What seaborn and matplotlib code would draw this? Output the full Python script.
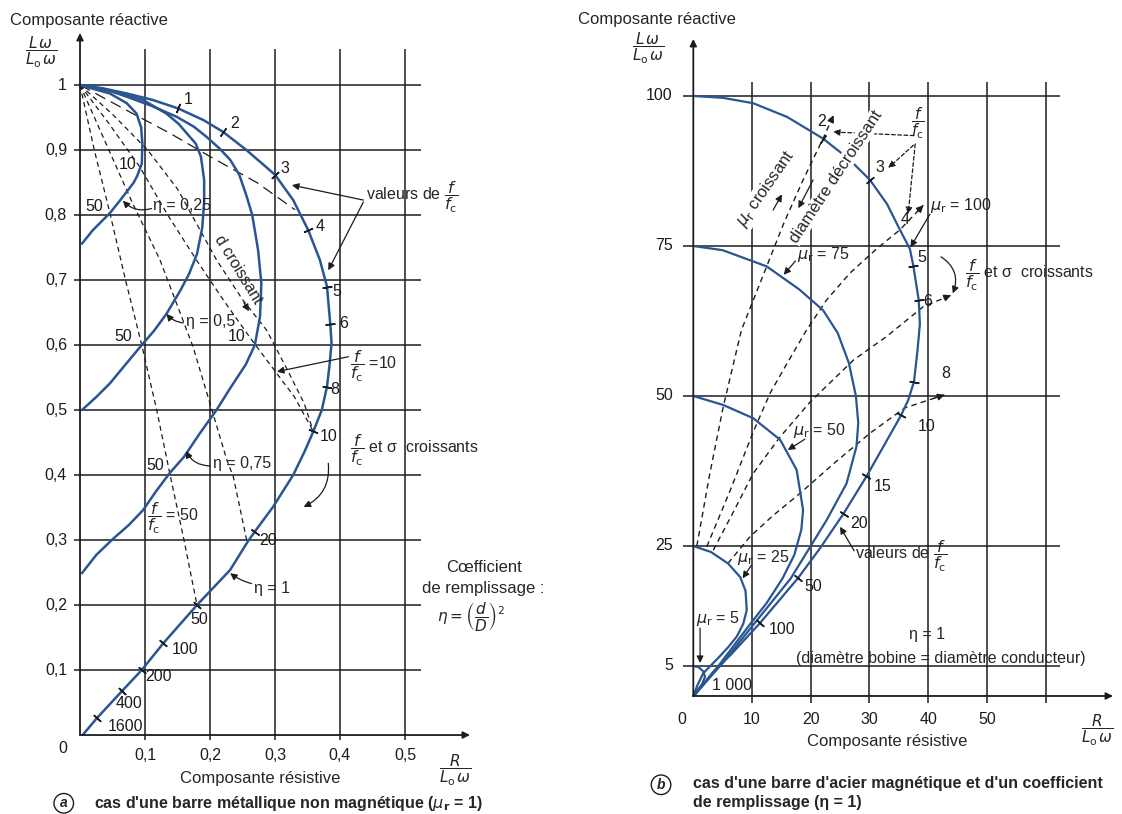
import numpy as np
import matplotlib
matplotlib.use("Agg")
import matplotlib.pyplot as plt
import seaborn as sns

sns.set_style("white")
plt.rcParams['font.family'] = ['Liberation Sans', 'DejaVu Sans']
plt.rcParams['mathtext.fontset'] = 'dejavusans'

BLUE = '#2a5593'
INK = '#1c1c1c'

# ---------------- (a) barre non magnétique ----------------
a_xticks = [0.1, 0.2, 0.3, 0.4, 0.5]
a_xlabels = ['0,1', '0,2', '0,3', '0,4', '0,5']
a_yticks = [0.1, 0.2, 0.3, 0.4, 0.5, 0.6, 0.7, 0.8, 0.9, 1.0]
a_ylabels = ['0,1', '0,2', '0,3', '0,4', '0,5', '0,6', '0,7', '0,8', '0,9', '1']

# courbes eta (coefficient de remplissage)
eta1_x = [0, 0.035, 0.072, 0.112, 0.151, 0.19, 0.22, 0.256, 0.30, 0.328, 0.351, 0.369, 0.380,
          0.385, 0.387, 0.384, 0.38, 0.372, 0.359, 0.345, 0.328, 0.297, 0.269, 0.259, 0.231,
          0.18, 0.128, 0.095, 0.064, 0.026, 0.004]
eta1_y = [1, 0.995, 0.987, 0.977, 0.964, 0.946, 0.928, 0.9, 0.862, 0.823, 0.777, 0.731, 0.69,
          0.633, 0.603, 0.57, 0.536, 0.5, 0.467, 0.435, 0.4, 0.351, 0.313, 0.299, 0.254,
          0.2, 0.141, 0.1, 0.067, 0.026, 0.0]
eta075_x = [0, 0.04, 0.072, 0.11, 0.149, 0.175, 0.195, 0.215, 0.231, 0.245, 0.256, 0.265, 0.274,
            0.279, 0.277, 0.269, 0.255, 0.232, 0.21, 0.185, 0.16, 0.138, 0.117, 0.097, 0.075,
            0.051, 0.025, 0.003]
eta075_y = [1, 0.993, 0.982, 0.968, 0.951, 0.936, 0.92, 0.902, 0.885, 0.862, 0.83, 0.8, 0.746,
            0.695, 0.644, 0.6, 0.57, 0.535, 0.5, 0.465, 0.428, 0.403, 0.375, 0.346, 0.323,
            0.302, 0.277, 0.249]
eta05_x = [0, 0.05, 0.097, 0.133, 0.152, 0.164, 0.178, 0.186, 0.191, 0.191, 0.188, 0.18, 0.168,
           0.155, 0.133, 0.114, 0.095, 0.07, 0.046, 0.025, 0.003]
eta05_y = [1, 0.99, 0.977, 0.956, 0.94, 0.926, 0.91, 0.89, 0.854, 0.82, 0.78, 0.74, 0.71,
           0.685, 0.648, 0.622, 0.6, 0.57, 0.541, 0.52, 0.5]
eta025_x = [0, 0.046, 0.072, 0.087, 0.094, 0.096, 0.095, 0.088, 0.082, 0.072, 0.062, 0.046,
            0.02, 0.003]
eta025_y = [1, 0.987, 0.972, 0.956, 0.935, 0.91, 0.879, 0.86, 0.849, 0.836, 0.823, 0.803,
            0.777, 0.756]

# lignes f/fc constantes (tiretés)
ff50_x = [0, 0.022, 0.046, 0.07, 0.095, 0.118, 0.138, 0.16, 0.18]
ff50_y = [1, 0.9, 0.803, 0.7, 0.6, 0.5, 0.403, 0.3, 0.2]
ff20_x = [0, 0.04, 0.08, 0.123, 0.174, 0.2, 0.226, 0.236, 0.248, 0.257]
ff20_y = [1, 0.91, 0.82, 0.731, 0.597, 0.51, 0.423, 0.397, 0.34, 0.297]
ff10_x = [0, 0.045, 0.092, 0.135, 0.179, 0.22, 0.264, 0.3, 0.33, 0.359]
ff10_y = [1, 0.94, 0.874, 0.8, 0.731, 0.67, 0.608, 0.56, 0.52, 0.467]
ffd_x = [0, 0.05, 0.104, 0.15, 0.21, 0.25, 0.287, 0.32, 0.345, 0.359]
ffd_y = [1, 0.955, 0.9, 0.84, 0.731, 0.67, 0.623, 0.56, 0.51, 0.467]
ff4_x = [0, 0.07, 0.138, 0.2, 0.272, 0.331]
ff4_y = [1, 0.962, 0.926, 0.89, 0.85, 0.808]

# repères f/fc sur la courbe eta = 1
a_marks = ['1', '2', '3', '4', '5', '6', '8', '10', '20', '50', '100', '200', '400', '1600']
a_mark_x = [0.151, 0.22, 0.30, 0.351, 0.38, 0.385, 0.38, 0.359, 0.269, 0.18, 0.128, 0.095, 0.064, 0.026]
a_mark_y = [0.964, 0.928, 0.862, 0.777, 0.69, 0.633, 0.536, 0.467, 0.313, 0.2, 0.141, 0.1, 0.067, 0.026]
a_lab_x = [0.167, 0.238, 0.315, 0.369, 0.395, 0.405, 0.392, 0.382, 0.289, 0.184, 0.161, 0.12, 0.076, 0.07]
a_lab_y = [0.977, 0.941, 0.872, 0.782, 0.682, 0.633, 0.531, 0.459, 0.3, 0.177, 0.131, 0.09, 0.049, 0.013]

# ---------------- (b) acier magnétique ----------------
b_xticks = [10, 20, 30, 40, 50, 60]
b_xlabels = ['10', '20', '30', '40', '50', '']
b_yticks = [5, 25, 50, 75, 100]
b_ylabels = ['5', '25', '50', '75', '100']

mu100_x = [0, 5, 10.2, 16, 22.1, 26.5, 30.1, 33, 35.2, 36.9, 37.5, 38.4, 38.6, 38.2, 37.6, 36.6,
           35.4, 32.4, 29.5, 25.6, 21.5, 17.8, 11.4, 6.5, 3.4, 0.3]
mu100_y = [100, 99.7, 98.8, 96.5, 92.9, 89.5, 86, 82, 77.7, 74.5, 71.6, 66, 62, 57.7, 52.4, 49.3,
           46.8, 41.6, 36.6, 30.4, 24.5, 19.6, 12.2, 7.0, 4.0, 0.2]
mu75_x = [0, 5, 12.5, 18, 22.1, 24.6, 26.5, 27.7, 28.1, 27.8, 26.1, 22.7, 20.0, 16.6, 10.5, 5, 1.5, 0]
mu75_y = [75, 74.3, 71.6, 67.8, 64.3, 60.5, 55.5, 50, 45.5, 41.6, 35.4, 29.3, 25.0, 19.6, 12.2, 5.5, 1.6, 0]
mu50_x = [0, 5.1, 10.2, 14.8, 17.6, 18.7, 18.4, 17.2, 15.2, 12.5, 9.7, 4.5, 1.2, 0]
mu50_y = [50, 48.5, 46.3, 42.7, 37.7, 31, 27.7, 23.5, 19.6, 15.5, 12, 5.3, 1.4, 0]
mu25_x = [0, 3, 5.9, 8, 8.9, 9.1, 8.5, 7.4, 6, 4.5, 3, 1.7, 0.7, 0]
mu25_y = [25, 24, 22.1, 19.8, 17.5, 14.3, 12, 9.9, 8.2, 6.6, 5.1, 3.8, 1.8, 0]
mu5_x = [0, 0.9, 1.7, 2.0, 1.5, 0.6, 0]
mu5_y = [5, 4.8, 4.1, 3.2, 2.0, 0.8, 0]

iso2_x = [0.6, 2.8, 5.1, 8.2, 12.5, 15.5, 18.7, 22.1, 23.9]
iso2_y = [25, 37, 48.2, 61, 71.6, 79, 86, 92.9, 96.8]
iso4_x = [2.3, 6.3, 10.2, 13.1, 16, 19.3, 22.7, 26.7, 31.2, 35.2, 39.2]
iso4_y = [24.9, 34.3, 44, 50.5, 55.5, 61, 66, 70.5, 74.5, 77.7, 81.8]
iso6_x = [3.4, 7, 10.2, 14.8, 19.9, 27.3, 32.9, 39.2, 43.9]
iso6_y = [24.3, 31, 37.1, 43.2, 49, 56, 59.9, 64.9, 66.8]
iso8_x = [5.9, 9.7, 13.5, 18.2, 24, 30.1, 36, 42.8]
iso8_y = [22.1, 26.6, 30, 33.8, 38.8, 43.8, 48, 50.2]

b_marks = ['2', '3', '5', '6', '8', '10', '15', '20', '50', '100']
b_mark_x = [22.1, 30.1, 37.5, 38.4, 37.6, 35.4, 29.5, 25.6, 17.8, 11.4]
b_mark_y = [92.9, 86, 71.6, 66, 52.4, 46.8, 36.6, 30.4, 19.6, 12.2]
b_lab_txt = ['2', '3', '4', '5', '6', '8', '10', '15', '20', '50', '100', '1 000']
b_lab_x = [21.9, 31.8, 36.0, 38.9, 39.9, 43.0, 39.8, 32.2, 28.3, 20.5, 15.1, 6.6]
b_lab_y = [95.7, 88, 79.4, 73, 65.7, 53.8, 44.9, 34.9, 28.8, 18.2, 11, 1.8]

fig = plt.figure(figsize=(11.22, 8.14), dpi=100)
axa = fig.add_axes([0, 0, 560 / 1122, 1])
axb = fig.add_axes([560 / 1122, 0, 562 / 1122, 1])
axa.set_xlim(-0.1231, 0.7385)
axa.set_ylim(-0.1215, 1.1308)
axb.set_xlim(-22.71, 73.03)
axb.set_ylim(-19.67, 116)
for ax in (axa, axb):
    ax.set_axis_off()


def curve(ax, x, y, **kw):
    sns.lineplot(x=x, y=y, sort=False, estimator=None, ax=ax, legend=False, **kw)


def tick_marks(ax, cx, cy, mx, my, sx, sy, size=7):
    cx, cy = np.asarray(cx), np.asarray(cy)
    for x, y in zip(mx, my):
        i = int(np.argmin(((cx - x) * sx) ** 2 + ((cy - y) * sy) ** 2))
        i0, i1 = max(i - 1, 0), min(i + 1, len(cx) - 1)
        ang = np.degrees(np.arctan2((cy[i1] - cy[i0]) * sy, (cx[i1] - cx[i0]) * sx))
        ax.plot([x], [y], marker=(2, 2, ang), ms=size, mew=1.1, color=INK, zorder=5)


def arrow(ax, xy, xytext, rad=0.0, lw=0.9, ls='-', head='-|>'):
    ax.annotate('', xy=xy, xytext=xytext,
                arrowprops=dict(arrowstyle=head, lw=lw, color=INK, ls=ls, mutation_scale=10,
                                shrinkA=0, shrinkB=0, connectionstyle=f'arc3,rad={rad}'))


def end_head(ax, x, y):
    ex, ey = x[-1], y[-1]
    px, py = x[-2], y[-2]
    ax.annotate('', xy=(ex, ey), xytext=(ex - 0.25 * (ex - px), ey - 0.25 * (ey - py)),
                arrowprops=dict(arrowstyle='-|>', lw=1.0, color=INK, mutation_scale=10,
                                shrinkA=0, shrinkB=0))


dash = (0, (4, 3))
tick_kw = dict(fontsize=11.5, color=INK)
frac_L = r'$\dfrac{L\,\omega}{L_\mathrm{o}\,\omega}$'
frac_R = r'$\dfrac{R}{L_\mathrm{o}\,\omega}$'
ffc = r'$\dfrac{f}{f_\mathrm{c}}$'

# ---------- panel a ----------
axa.hlines(a_yticks, -0.01, 0.525, color=INK, lw=1.1)
axa.vlines(a_xticks, -0.008, 1.055, color=INK, lw=1.1)
arrow(axa, (0, 1.08), (0, 0), lw=1.3)
arrow(axa, (0.6, 0), (0, 0), lw=1.3)
for v, lab in zip(a_yticks, a_ylabels):
    axa.text(-0.02, v, lab, ha='right', va='center', **tick_kw)
for v, lab in zip(a_xticks, a_xlabels):
    axa.text(v, -0.031, lab, ha='center', va='center', **tick_kw)
axa.text(-0.027, -0.02, '0', ha='center', va='center', **tick_kw)
axa.text(-0.108, 1.10, 'Composante réactive', ha='left', va='center', fontsize=12)
axa.text(-0.06, 1.05, frac_L, ha='center', va='center', fontsize=11)
axa.text(0.277, -0.067, 'Composante résistive', ha='center', va='center', fontsize=12)
axa.text(0.577, -0.054, frac_R, ha='center', va='center', fontsize=11)
axa.text(-0.025, -0.105, 'a', ha='center', va='center', fontsize=10, fontweight='bold',
         style='italic', bbox=dict(boxstyle='circle,pad=0.2', fc='white', ec=INK, lw=1))
axa.text(0.022, -0.105, "cas d'une barre métallique non magnétique ($\\mu_\\mathbf{r}$ = 1)",
         ha='left', va='center', fontsize=11.5, fontweight='bold')

for lx, ly in [(ff50_x, ff50_y), (ff20_x, ff20_y), (ff10_x, ff10_y), (ffd_x, ffd_y)]:
    curve(axa, lx, ly, color=INK, lw=0.9, linestyle=dash)
curve(axa, ff4_x, ff4_y, color=INK, lw=0.9, linestyle=(0, (9, 5)))
for lx, ly in [(eta1_x, eta1_y), (eta075_x, eta075_y), (eta05_x, eta05_y), (eta025_x, eta025_y)]:
    curve(axa, lx, ly, color=BLUE, lw=1.8)
tick_marks(axa, eta1_x, eta1_y, a_mark_x, a_mark_y, 650, 650)
for t, x, y in zip(a_marks, a_lab_x, a_lab_y):
    axa.text(x, y, t, ha='center', va='center', fontsize=11.5, color=INK)
for t, x, y in [('10', 0.074, 0.877), ('50', 0.022, 0.813), ('50', 0.066, 0.613),
                ('10', 0.241, 0.613), ('50', 0.115, 0.415)]:
    axa.text(x, y, t, ha='center', va='center', fontsize=11.5, color=INK)

axa.text(0.44, 0.828, 'valeurs de ' + ffc, ha='left', va='center', fontsize=11.5)
arrow(axa, (0.326, 0.846), (0.436, 0.823))
arrow(axa, (0.382, 0.715), (0.436, 0.82))
axa.text(0.113, 0.815, 'η = 0,25', ha='left', va='center', fontsize=11.5)
arrow(axa, (0.066, 0.822), (0.11, 0.81), rad=-0.3)
axa.text(0.163, 0.636, 'η = 0,5', ha='left', va='center', fontsize=11.5)
arrow(axa, (0.133, 0.648), (0.159, 0.634), rad=-0.2)
axa.text(0.205, 0.418, 'η = 0,75', ha='left', va='center', fontsize=11.5)
arrow(axa, (0.163, 0.437), (0.2, 0.414), rad=-0.3)
axa.text(0.268, 0.226, 'η = 1', ha='left', va='center', fontsize=11.5)
arrow(axa, (0.231, 0.249), (0.264, 0.233), rad=-0.1)
axa.text(0.415, 0.567, ffc + ' =10', ha='left', va='center', fontsize=11.5)
arrow(axa, (0.303, 0.559), (0.413, 0.582))
axa.text(0.415, 0.438, ffc + ' et σ  croissants', ha='left', va='center', fontsize=11.5)
arrow(axa, (0.344, 0.351), (0.382, 0.418), rad=-0.35)
axa.text(0.103, 0.333, ffc + ' = 50', ha='left', va='center', fontsize=11.5)
axa.text(0.244, 0.716, 'd croissant', rotation=-58.4, rotation_mode='anchor',
         ha='center', va='center', fontsize=11.5)
arrow(axa, (0.26, 0.652), (0.252, 0.665))
axa.text(0.621, 0.257, 'Cœfficient', ha='center', va='center', fontsize=12)
axa.text(0.621, 0.226, 'de remplissage :', ha='center', va='center', fontsize=12)
axa.text(0.602, 0.183, r'$\eta = \left(\dfrac{d}{D}\right)^2$', ha='center', va='center',
         fontsize=11)

# ---------- panel b ----------
axb.hlines(b_yticks, -1.8, 62.5, color=INK, lw=1.1)
axb.vlines(b_xticks, -1.2, 102.3, color=INK, lw=1.1)
arrow(axb, (0, 109.5), (0, 0), lw=1.3)
arrow(axb, (71.5, 0), (0, 0), lw=1.3)
for v, lab in zip(b_yticks, b_ylabels):
    axb.text(-3.5, v, lab, ha='right', va='center', **tick_kw)
for v, lab in zip(b_xticks, b_xlabels):
    axb.text(v, -4.0, lab, ha='center', va='center', **tick_kw)
axb.text(-1.9, -4.0, '0', ha='center', va='center', **tick_kw)
axb.text(-19.6, 112.7, 'Composante réactive', ha='left', va='center', fontsize=12)
axb.text(-7.7, 108, frac_L, ha='center', va='center', fontsize=11)
axb.text(33.1, -7.6, 'Composante résistive', ha='center', va='center', fontsize=12)
axb.text(68.8, -5.7, frac_R, ha='center', va='center', fontsize=11)
axb.text(-5.5, -14.8, 'b', ha='center', va='center', fontsize=10, fontweight='bold',
         style='italic', bbox=dict(boxstyle='circle,pad=0.2', fc='white', ec=INK, lw=1))
axb.text(0, -13.4, "cas d'une barre d'acier magnétique et d'un coefficient\nde remplissage (η = 1)",
         ha='left', va='top', fontsize=11.5, fontweight='bold', linespacing=1.3)

for lx, ly in [(iso2_x, iso2_y), (iso4_x, iso4_y), (iso6_x, iso6_y), (iso8_x, iso8_y)]:
    curve(axb, lx, ly, color=INK, lw=1.0, linestyle=dash)
    end_head(axb, lx, ly)
for lx, ly in [(mu100_x, mu100_y), (mu75_x, mu75_y), (mu50_x, mu50_y), (mu25_x, mu25_y),
               (mu5_x, mu5_y)]:
    curve(axb, lx, ly, color=BLUE, lw=1.6)
tick_marks(axb, mu100_x, mu100_y, b_mark_x, b_mark_y, 5.87, 6.0)
for t, x, y in zip(b_lab_txt, b_lab_x, b_lab_y):
    axb.text(x, y, t, ha='center', va='center', fontsize=11.5, color=INK)

axb.text(38.3, 95.5, ffc, ha='center', va='center', fontsize=11)
arrow(axb, (23.8, 94.0), (37.6, 93.4), ls=(0, (3, 2)))
arrow(axb, (33.2, 88.0), (37.5, 91.8), ls=(0, (3, 2)))
arrow(axb, (36.6, 80.3), (37.8, 92.0), ls=(0, (3, 2)))

axb.text(40.4, 81.8, r'$\mu_\mathrm{r}$ = 100', ha='left', va='center', fontsize=11.5)
arrow(axb, (37.0, 74.8), (40.3, 80.3))
axb.text(17.6, 73.5, r'$\mu_\mathrm{r}$ = 75', ha='left', va='center', fontsize=11.5)
arrow(axb, (15.4, 70.2), (17.4, 72.5))
axb.text(17.0, 44.3, r'$\mu_\mathrm{r}$ = 50', ha='left', va='center', fontsize=11.5)
arrow(axb, (16.1, 41.0), (19.0, 42.8))
axb.text(7.4, 23.0, r'$\mu_\mathrm{r}$ = 25', ha='left', va='center', fontsize=11.5)
arrow(axb, (8.4, 19.6), (9.9, 21.8))
axb.text(0.4, 12.9, r'$\mu_\mathrm{r}$ = 5', ha='left', va='center', fontsize=11.5)
arrow(axb, (1.15, 5.5), (1.15, 11.3))
axb.text(46.3, 70.2, ffc + ' et σ  croissants', ha='left', va='center', fontsize=11.5)
arrow(axb, (44.2, 67.1), (42.2, 73.2), rad=-0.4)
axb.text(27.5, 23.3, 'valeurs de ' + ffc, ha='left', va='center', fontsize=11.5)
arrow(axb, (25.0, 28.2), (27.4, 24.2))
axb.text(39.8, 10.2, 'η = 1', ha='center', va='center', fontsize=11.5)
axb.text(42.1, 6.3, '(diamètre bobine = diamètre conducteur)', ha='center', va='center',
         fontsize=11.5)

axb.text(12.5, 84.6, r'$\mu_\mathrm{r}$ croissant', rotation=55.2, rotation_mode='anchor',
         ha='center', va='center', fontsize=12,
         bbox=dict(boxstyle='square,pad=0.05', fc='white', ec='none'))
arrow(axb, (15.1, 83.6), (13.6, 81.0))
axb.text(24.3, 86.6, 'diamètre décroissant', rotation=56.5, rotation_mode='anchor',
         ha='center', va='center', fontsize=12,
         bbox=dict(boxstyle='square,pad=0.05', fc='white', ec='none'))
arrow(axb, (17.9, 81.3), (20.4, 86.0))

fig.savefig('out.png', dpi=100, facecolor='white')
